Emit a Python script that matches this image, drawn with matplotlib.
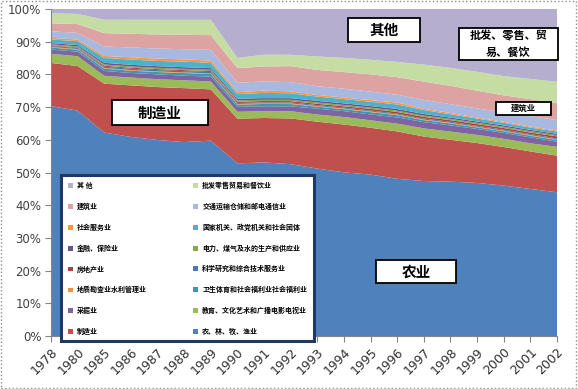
import numpy as np
import matplotlib
matplotlib.use("Agg")
import matplotlib.pyplot as plt
from matplotlib.patches import Rectangle

plt.rcParams['font.family'] = ['Noto Sans CJK SC', 'DejaVu Sans']

years = ['1978', '1980', '1985', '1986', '1987', '1988', '1989', '1990', '1991', '1992',
         '1993', '1994', '1995', '1996', '1997', '1998', '1999', '2000', '2001', '2002']

# shares in percent, bottom to top of the stack
agri = [70.3, 68.7, 62.4, 61.0, 60.0, 59.3, 59.8, 52.9, 53.2, 52.6,
        51.4, 50.3, 49.6, 48.4, 47.4, 47.2, 46.8, 46.0, 45.0, 44.0]
manu = [13.2, 13.6, 15.0, 15.8, 16.2, 16.5, 15.7, 13.7, 13.6, 14.0,
        14.4, 14.7, 14.4, 14.6, 13.6, 12.8, 12.2, 11.8, 11.5, 11.2]
edu = [2.8, 3.0, 2.4, 2.4, 2.4, 2.4, 2.4, 2.1, 2.1, 2.2,
       2.2, 2.3, 2.3, 2.4, 2.5, 2.5, 2.5, 2.5, 2.5, 2.7]
mining = [1.3, 1.4, 1.5, 1.4, 1.5, 1.4, 1.5, 1.5, 1.5, 1.5,
          1.8, 1.8, 1.8, 1.9, 1.9, 1.9, 1.8, 1.8, 1.8, 1.6]
health = [0.6, 0.6, 0.7, 0.7, 0.7, 0.8, 0.8, 0.7, 0.7, 0.7,
          0.6, 0.6, 0.7, 0.7, 0.6, 0.6, 0.5, 0.5, 0.5, 0.5]
geology = [0.2] * 20
science = [0.3, 0.3, 0.4, 0.4, 0.4, 0.4, 0.4, 0.3, 0.3, 0.3,
           0.3, 0.3, 0.3, 0.3, 0.3, 0.3, 0.3, 0.3, 0.3, 0.3]
estate = [0.2, 0.2, 0.3, 0.3, 0.3, 0.3, 0.3, 0.4, 0.4, 0.4,
          0.4, 0.4, 0.5, 0.5, 0.5, 0.5, 0.5, 0.5, 0.5, 0.6]
power = [0.3, 0.3, 0.4, 0.4, 0.4, 0.4, 0.4, 0.4, 0.4, 0.4,
         0.4, 0.4, 0.4, 0.4, 0.4, 0.4, 0.4, 0.4, 0.4, 0.4]
finance = [0.4, 0.4, 0.5, 0.5, 0.5, 0.5, 0.5, 0.5, 0.5, 0.5,
           0.5, 0.5, 0.5, 0.5, 0.5, 0.4, 0.4, 0.4, 0.4, 0.4]
gov = [1.1, 1.2, 1.5, 1.6, 1.6, 1.7, 1.6, 1.4, 1.6, 1.5,
       1.3, 1.3, 1.3, 1.4, 1.2, 1.0, 0.9, 0.8, 0.7, 0.7]
social = [0.5, 0.5, 0.6, 0.7, 0.7, 0.7, 0.7, 0.6, 0.7, 0.6,
          0.5, 0.5, 0.5, 0.6, 0.4, 0.4, 0.3, 0.3, 0.3, 0.3]
transport = [2.0, 2.0, 2.9, 3.0, 3.1, 3.1, 3.3, 2.9, 2.8, 2.8,
             2.7, 2.7, 2.6, 2.4, 2.7, 2.7, 2.8, 2.9, 3.2, 3.2]
construct = [2.4, 2.7, 4.1, 4.2, 4.3, 4.4, 4.5, 4.5, 4.6, 4.9,
             5.0, 5.1, 5.3, 5.4, 5.6, 5.6, 5.4, 5.2, 5.2, 5.2]
wholesale = [3.1, 3.1, 4.1, 4.3, 4.5, 4.6, 4.7, 3.1, 3.6, 3.5,
             4.1, 4.4, 4.5, 4.7, 5.2, 5.5, 5.8, 5.9, 6.2, 6.5]
other = [1.3, 1.5, 3.3, 3.3, 3.3, 3.3, 3.3, 15.0, 14.0, 14.0,
         14.6, 15.0, 15.6, 16.3, 17.0, 18.0, 19.2, 20.5, 21.4, 22.3]

series = [agri, manu, edu, mining, health, geology, science, estate,
          power, finance, gov, social, transport, construct, wholesale, other]
names = ['农、林、牧、渔业', '制造业', '教育、文化艺术和广播电影电视业', '采掘业',
         '卫生体育和社会福利业社会福利业', '地质勘查业水利管理业', '科学研究和综合技术服务业', '房地产业',
         '电力、煤气及水的生产和供应业', '金融、保险业', '国家机关、政党机关和社会团体', '社会服务业',
         '交通运输仓储和邮电通信业', '建筑业', '批发零售贸易和餐饮业', '其 他']
colors = ['#4F81BD', '#C0504D', '#9BBB59', '#8064A2', '#3F96AE', '#F0903A',
          '#4A78B0', '#A9433F', '#87A64E', '#6A548E', '#4BB2CC', '#F79646',
          '#A9B8DE', '#DDA3A2', '#C5DDA3', '#B6AECF']

data = np.array(series, dtype=float)
data = data / data.sum(axis=0) * 100

W, H = 578, 389
fig = plt.figure(figsize=(W / 100, H / 100), dpi=100)
ax = fig.add_axes([51 / W, 1 - 336 / H, 506 / W, 327 / H])

x = np.arange(len(years))
polys = ax.stackplot(x, data, colors=colors, linewidth=0)

ax.set_xlim(0, len(years) - 1)
ax.set_ylim(0, 100)
ax.set_yticks(np.arange(0, 101, 10))
ax.set_yticklabels([f'{v}%' for v in range(0, 101, 10)], fontsize=8.5, color='#404040',
                   family=['DejaVu Sans'])
ax.set_xticks(x)
ax.set_xticklabels(years, rotation=45, ha='right', va='top', rotation_mode='anchor',
                   fontsize=9, color='#303030', family=['DejaVu Sans'])
ax.tick_params(axis='both', direction='out', length=4, color='#868686', pad=3)
for s in ['top', 'right']:
    ax.spines[s].set_visible(False)
for s in ['left', 'bottom']:
    ax.spines[s].set_color('#868686')

# legend: row-major in the original, so hand matplotlib column 1 first
order = [15, 13, 11, 9, 7, 5, 3, 1, 14, 12, 10, 8, 6, 4, 2, 0]
handles = [polys[i] for i in order]
labels = [names[i] for i in order]
leg = ax.legend(handles, labels, ncol=2, loc='upper left',
                bbox_to_anchor=(58 / W, 1 - 333 / H, 259 / W, 161 / H),
                bbox_transform=fig.transFigure, mode='expand',
                prop={'family': ['Noto Sans CJK SC'], 'size': 5, 'weight': 'bold'},
                handlelength=0.7, handleheight=0.7, handletextpad=0.6,
                labelspacing=1.95, borderpad=0.9, columnspacing=1.0,
                fancybox=False, framealpha=1)
leg.get_frame().set_edgecolor('#1F3864')
leg.get_frame().set_linewidth(2.2)


def label_box(x0, y0, x1, y1, text, size):
    fig.add_artist(Rectangle((x0 / W, 1 - y1 / H), (x1 - x0) / W, (y1 - y0) / H,
                             transform=fig.transFigure, facecolor='white',
                             edgecolor='black', linewidth=1.3, zorder=5))
    fig.text((x0 + x1) / 2 / W, 1 - (y0 + y1) / 2 / H, text, ha='center', va='center',
             fontsize=size, fontweight='bold', color='black', zorder=6,
             linespacing=1.3)


label_box(112, 100, 208, 125, '制造业', 10.5)
label_box(348, 18, 420, 42, '其他', 10.5)
label_box(459, 28, 558, 60, '批发、零售、贸\n易、餐饮', 8)
label_box(496, 102, 551, 115, '建筑业', 6)
label_box(376, 260, 456, 283, '农业', 10.5)

fig.add_artist(Rectangle((0.002, 0.003), 0.995, 0.994, transform=fig.transFigure,
                         fill=False, edgecolor='#8c8c8c', linestyle=':', linewidth=1))

fig.savefig('out.png', dpi=100)
